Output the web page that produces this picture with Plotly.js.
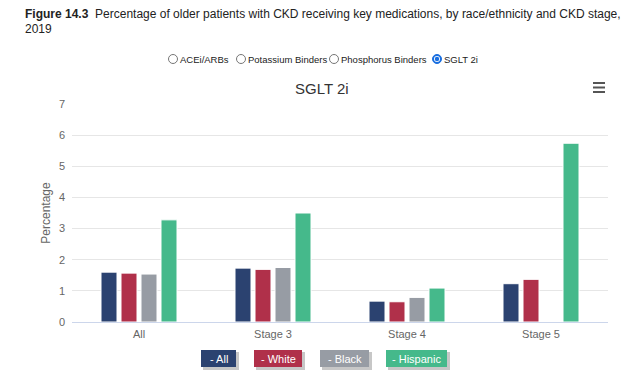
<!DOCTYPE html>
<html>
<head>
<meta charset="utf-8">
<script src="https://cdn.plot.ly/plotly-3.0.1.min.js"></script>
<style>
html,body{margin:0;padding:0;background:#fff;}
#chart{width:624px;height:378px;}
</style>
</head>
<body>
<div id="chart"></div>
<script>
// ---- data ----
const categories = ["All", "Stage 3", "Stage 4", "Stage 5"];
const seriesNames = ["- All", "- White", "- Black", "- Hispanic"];
const allVals = [1.60, 1.73, 0.67, 1.23];
const whiteVals = [1.57, 1.69, 0.65, 1.37];
const blackVals = [1.54, 1.75, 0.79, null];
const hispanicVals = [3.28, 3.50, 1.09, 5.74];
const yTicks = [0, 1, 2, 3, 4, 5, 6, 7];
const radioLabels = ["ACEi/ARBs", "Potassium Binders", "Phosphorus Binders", "SGLT 2i"];

const colors = ["#2b4270", "#b0304a", "#979ca4", "#45b98b"];
const font = "Liberation Sans, Arial, sans-serif";

// plot area in pixels
const L = 72, R = 608, T = 104, B = 322;
const px = x => (x - L) / (R - L);
const py = y => (B - y) / (B - T);

const values = [allVals, whiteVals, blackVals, hispanicVals];
const traces = values.map((v, i) => ({
  type: "bar",
  name: seriesNames[i],
  x: categories,
  y: v,
  marker: {color: colors[i], line: {color: "#ffffff", width: 1}},
  hoverinfo: "none"
}));

const annotations = [];
const shapes = [];

// figure title
annotations.push({
  xref: "paper", yref: "paper", x: px(23), y: py(14), xanchor: "left", yanchor: "middle",
  showarrow: false, align: "left",
  text: "<b>Figure 14.3</b>  Percentage of older patients with CKD receiving key medications, by race/ethnicity and CKD stage,",
  font: {family: font, size: 12, color: "#222"}
});
annotations.push({
  xref: "paper", yref: "paper", x: px(23), y: py(29), xanchor: "left", yanchor: "middle",
  showarrow: false, align: "left", text: "2019",
  font: {family: font, size: 12, color: "#222"}
});

// radio row
const radioCircleX = [173, 241, 334, 437];
const radioTextX = [178, 246, 339, 442];
const radioY = 59;
radioLabels.forEach((lab, i) => {
  const sel = i === 3;
  shapes.push({
    type: "circle", xref: "paper", yref: "paper", xsizemode: "pixel", ysizemode: "pixel",
    xanchor: px(radioCircleX[i]), yanchor: py(radioY), x0: -4.5, x1: 4.5, y0: -4.5, y1: 4.5,
    line: {color: sel ? "#1a6fe0" : "#767676", width: 1}, fillcolor: sel ? "#1a6fe0" : "#ffffff"
  });
  if (sel) {
    shapes.push({
      type: "circle", xref: "paper", yref: "paper", xsizemode: "pixel", ysizemode: "pixel",
      xanchor: px(radioCircleX[i]), yanchor: py(radioY), x0: -3, x1: 3, y0: -3, y1: 3,
      line: {width: 0}, fillcolor: "#ffffff"
    });
    shapes.push({
      type: "circle", xref: "paper", yref: "paper", xsizemode: "pixel", ysizemode: "pixel",
      xanchor: px(radioCircleX[i]), yanchor: py(radioY), x0: -2.2, x1: 2.2, y0: -2.2, y1: 2.2,
      line: {width: 0}, fillcolor: "#1a6fe0"
    });
  }
  annotations.push({
    xref: "paper", yref: "paper", x: px(radioTextX[i]), y: py(radioY), xanchor: "left", yanchor: "middle",
    showarrow: false, text: lab, font: {family: font, size: 9.5, color: "#222"}
  });
});

// chart title
annotations.push({
  xref: "paper", yref: "paper", x: px(322), y: py(88), xanchor: "center", yanchor: "middle",
  showarrow: false, text: "SGLT 2i", font: {family: font, size: 15, color: "#333"}
});

// hamburger menu
[83, 87.5, 92].forEach(yy => {
  shapes.push({
    type: "line", xref: "paper", yref: "paper", x0: px(593), x1: px(605), y0: py(yy), y1: py(yy),
    line: {color: "#555", width: 2}
  });
});

// legend buttons
const btnX0 = [201, 254, 320, 386];
const btnX1 = [236, 302, 369, 447];
const btnY0 = 350, btnY1 = 367;
seriesNames.forEach((n, i) => {
  shapes.push({
    type: "rect", xref: "paper", yref: "paper",
    x0: px(btnX0[i] + 2), x1: px(btnX1[i] + 3), y0: py(btnY0 + 2), y1: py(btnY1 + 3),
    line: {width: 0}, fillcolor: "rgba(0,0,0,0.22)"
  });
  shapes.push({
    type: "rect", xref: "paper", yref: "paper",
    x0: px(btnX0[i]), x1: px(btnX1[i]), y0: py(btnY0), y1: py(btnY1),
    line: {width: 0}, fillcolor: colors[i]
  });
  annotations.push({
    xref: "paper", yref: "paper", x: px((btnX0[i] + btnX1[i]) / 2), y: py((btnY0 + btnY1) / 2),
    xanchor: "center", yanchor: "middle", showarrow: false, text: n,
    font: {family: font, size: 11, color: "#ffffff"}
  });
});

const layout = {
  width: 624, height: 378,
  margin: {l: L, r: 624 - R, t: T, b: 378 - B, pad: 0},
  paper_bgcolor: "#ffffff", plot_bgcolor: "#ffffff",
  showlegend: false,
  barmode: "group", bargap: 0.403, bargroupgap: 0.2,
  font: {family: font, color: "#666"},
  xaxis: {
    type: "category", tickfont: {size: 11, color: "#666"}, showgrid: false,
    showline: false, ticks: "", zeroline: false, fixedrange: true, ticklabelstandoff: 4
  },
  yaxis: {
    range: [0, 7], tickvals: yTicks, ticktext: yTicks.map(String),
    tickfont: {size: 11, color: "#666"}, gridcolor: "#e6e6e6", gridwidth: 1,
    zeroline: true, zerolinecolor: "#ccd6eb", zerolinewidth: 1,
    ticks: "", ticklabelstandoff: 6, fixedrange: true,
    title: {text: "Percentage", font: {size: 12, color: "#666"}, standoff: 5}
  },
  annotations: annotations,
  shapes: shapes
};

Plotly.newPlot("chart", traces, layout, {displayModeBar: false, staticPlot: true});
</script>
</body>
</html>
